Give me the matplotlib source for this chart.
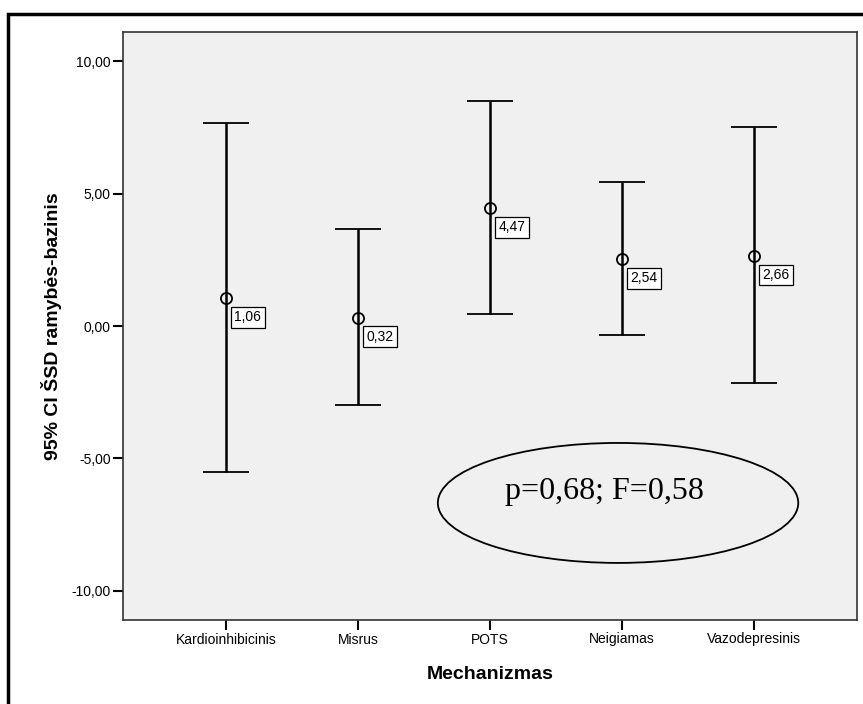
import matplotlib.pyplot as plt
from matplotlib.patches import Ellipse, Rectangle

# Duomenys (95% CI ŠSD ramybės-bazinis pagal mechanizmą)
kategorijos = ["Kardioinhibicinis", "Misrus", "POTS", "Neigiamas", "Vazodepresinis"]
vidurkiai = [1.06, 0.32, 4.47, 2.54, 2.66]
apatinis = [-5.51, -2.98, 0.45, -0.34, -2.15]
virsutinis = [7.66, 3.66, 8.49, 5.43, 7.50]
y_ticks = [-10, -5, 0, 5, 10]

plt.rcParams["font.family"] = ["Liberation Sans", "DejaVu Sans"]

fig = plt.figure(figsize=(8.63, 7.04), dpi=100)
ax = fig.add_axes([123 / 863, 1 - 620 / 704, (857 - 123) / 863, (620 - 32) / 704])
ax.set_facecolor("#f0f0f0")

x = list(range(len(kategorijos)))
err_low = [m - a for m, a in zip(vidurkiai, apatinis)]
err_high = [v - m for m, v in zip(vidurkiai, virsutinis)]
ax.errorbar(x, vidurkiai, yerr=[err_low, err_high], fmt="o", mfc="none", mec="black",
            ms=8, mew=1.3, ecolor="black", elinewidth=1.8, capsize=16.5, capthick=1.8,
            color="black")

for xi, m in zip(x, vidurkiai):
    ax.annotate(f"{m:.2f}".replace(".", ","), (xi, m), xytext=(6, -14),
                textcoords="offset points", ha="left", va="center", fontsize=10,
                bbox=dict(boxstyle="square,pad=0.25", fc="white", ec="black", lw=0.9))

ax.set_xlim(-0.78, 4.78)
ax.set_ylim(-11.1, 11.1)
ax.set_xticks(x)
ax.set_xticklabels(kategorijos, fontsize=10)
ax.set_yticks(y_ticks)
ax.set_yticklabels([f"{t:.2f}".replace(".", ",") for t in y_ticks], fontsize=10)
ax.tick_params(direction="out", length=7, width=1.5, pad=2)
for s in ax.spines.values():
    s.set_linewidth(1.2)
    s.set_color("#333333")

ax.set_ylabel("95% CI ŠSD ramybės-bazinis", fontsize=14, fontweight="bold", labelpad=7)
ax.set_xlabel("Mechanizmas", fontsize=14, fontweight="bold", labelpad=14)

ax.add_patch(Ellipse((2.97, -6.68), 2.73, 4.53, fill=False, ec="black", lw=1.3))
ax.text(2.87, -6.25, "p=0,68; F=0,58", ha="center", va="center", fontsize=23,
        family=["Liberation Serif", "DejaVu Serif"])

# rėmelis aplink visą paveikslą
fig.patches.append(Rectangle((8 / 863, -0.1), 1.2, 1 - 14 / 704 + 0.1,
                             transform=fig.transFigure, fill=False, ec="black", lw=2.5))

plt.savefig("out.png", dpi=100)
